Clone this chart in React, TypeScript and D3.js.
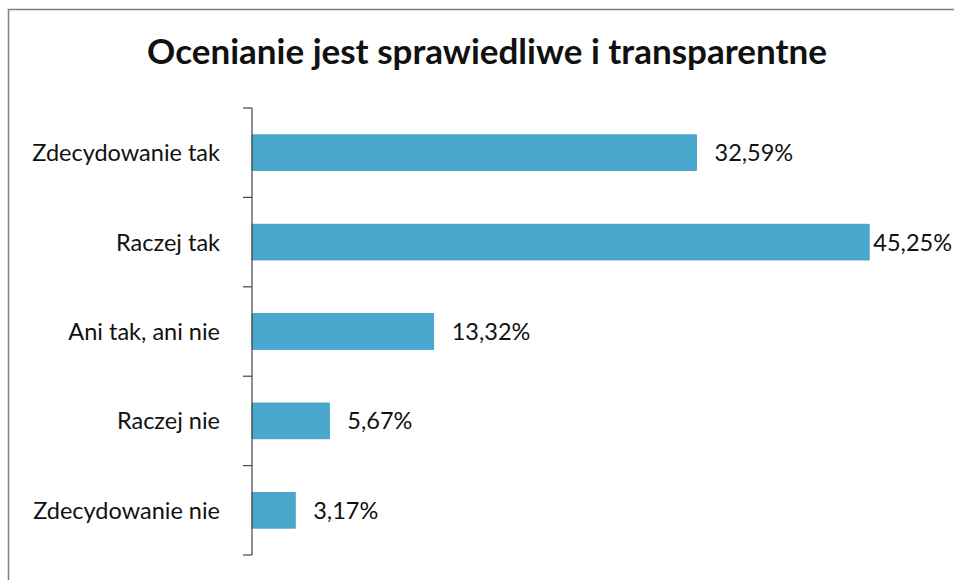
import * as React from 'react';
import * as d3 from 'd3';

const categories = ['Zdecydowanie tak', 'Raczej tak', 'Ani tak, ani nie', 'Raczej nie', 'Zdecydowanie nie'];
const values = [32.59, 45.25, 13.32, 5.67, 3.17];
const valueLabels = ['32,59%', '45,25%', '13,32%', '5,67%', '3,17%'];
const title = 'Ocenianie jest sprawiedliwe i transparentne';

const W = 954;
const H = 580;

export default function App() {
    const ref = React.useRef<SVGSVGElement>(null);

    React.useEffect(() => {
        document.body.style.margin = '0';
        const svg = d3.select(ref.current);
        svg.selectAll('*').remove();

        const margin = { top: 108, left: 252, bottom: 25 };
        const x = d3.scaleLinear().domain([0, 50]).range([margin.left, margin.left + 682]);
        const y = d3.scaleBand<string>()
            .domain(categories)
            .range([margin.top, H - margin.bottom])
            .paddingInner(0.6)
            .paddingOuter(0.3);

        // frame around the chart
        svg.append('rect')
            .attr('x', 8.5).attr('y', 9.5)
            .attr('width', W).attr('height', H)
            .attr('fill', '#fff')
            .attr('stroke', '#808080')
            .attr('stroke-width', 1.5);

        svg.append('text')
            .attr('x', 487).attr('y', 64)
            .attr('text-anchor', 'middle')
            .attr('font-family', 'Lato, sans-serif')
            .attr('font-weight', 'bold')
            .attr('font-size', 35)
            .attr('fill', '#111')
            .text(title);

        // bars
        svg.selectAll('rect.bar')
            .data(values)
            .enter().append('rect')
            .attr('class', 'bar')
            .attr('x', x(0))
            .attr('y', (d, i) => y(categories[i])!)
            .attr('width', (d) => x(d) - x(0))
            .attr('height', y.bandwidth())
            .attr('fill', '#4aa8cf')
            .attr('stroke', '#3a98c0')
            .attr('stroke-width', 0.8);

        // value labels, pushed left if they would run past the edge
        svg.selectAll('text.value')
            .data(values)
            .enter().append('text')
            .attr('class', 'value')
            .attr('x', (d) => x(d) + 18)
            .attr('y', (d, i) => y(categories[i])! + y.bandwidth() / 2)
            .attr('dy', '0.36em')
            .attr('font-family', 'Lato, sans-serif')
            .attr('font-size', 23.5)
            .attr('fill', '#111')
            .text((d, i) => valueLabels[i])
            .each(function (d) {
                const len = (this as SVGTextElement).getComputedTextLength();
                const maxX = W - len - 2;
                if (x(d) + 18 > maxX) d3.select(this).attr('x', maxX);
            });

        // category axis
        const step = y.step();
        const edges = d3.range(categories.length + 1).map((i) => margin.top + i * step);
        const axis = svg.append('g');
        axis.append('line')
            .attr('x1', x(0)).attr('x2', x(0))
            .attr('y1', edges[0]).attr('y2', edges[edges.length - 1])
            .attr('stroke', '#444').attr('stroke-width', 1.2);
        axis.selectAll('line.tick')
            .data(edges)
            .enter().append('line')
            .attr('class', 'tick')
            .attr('x1', x(0) - 9).attr('x2', x(0))
            .attr('y1', (d) => d).attr('y2', (d) => d)
            .attr('stroke', '#444').attr('stroke-width', 1.2);
        axis.selectAll('text.cat')
            .data(categories)
            .enter().append('text')
            .attr('class', 'cat')
            .attr('x', x(0) - 32)
            .attr('y', (d) => y(d)! + y.bandwidth() / 2)
            .attr('dy', '0.36em')
            .attr('text-anchor', 'end')
            .attr('font-family', 'Lato, sans-serif')
            .attr('font-size', 23.5)
            .attr('fill', '#111')
            .text((d) => d);
    }, []);

    return (
        <svg ref={ref} width={W} height={H} style={{ display: 'block' }}></svg>
    );
}
